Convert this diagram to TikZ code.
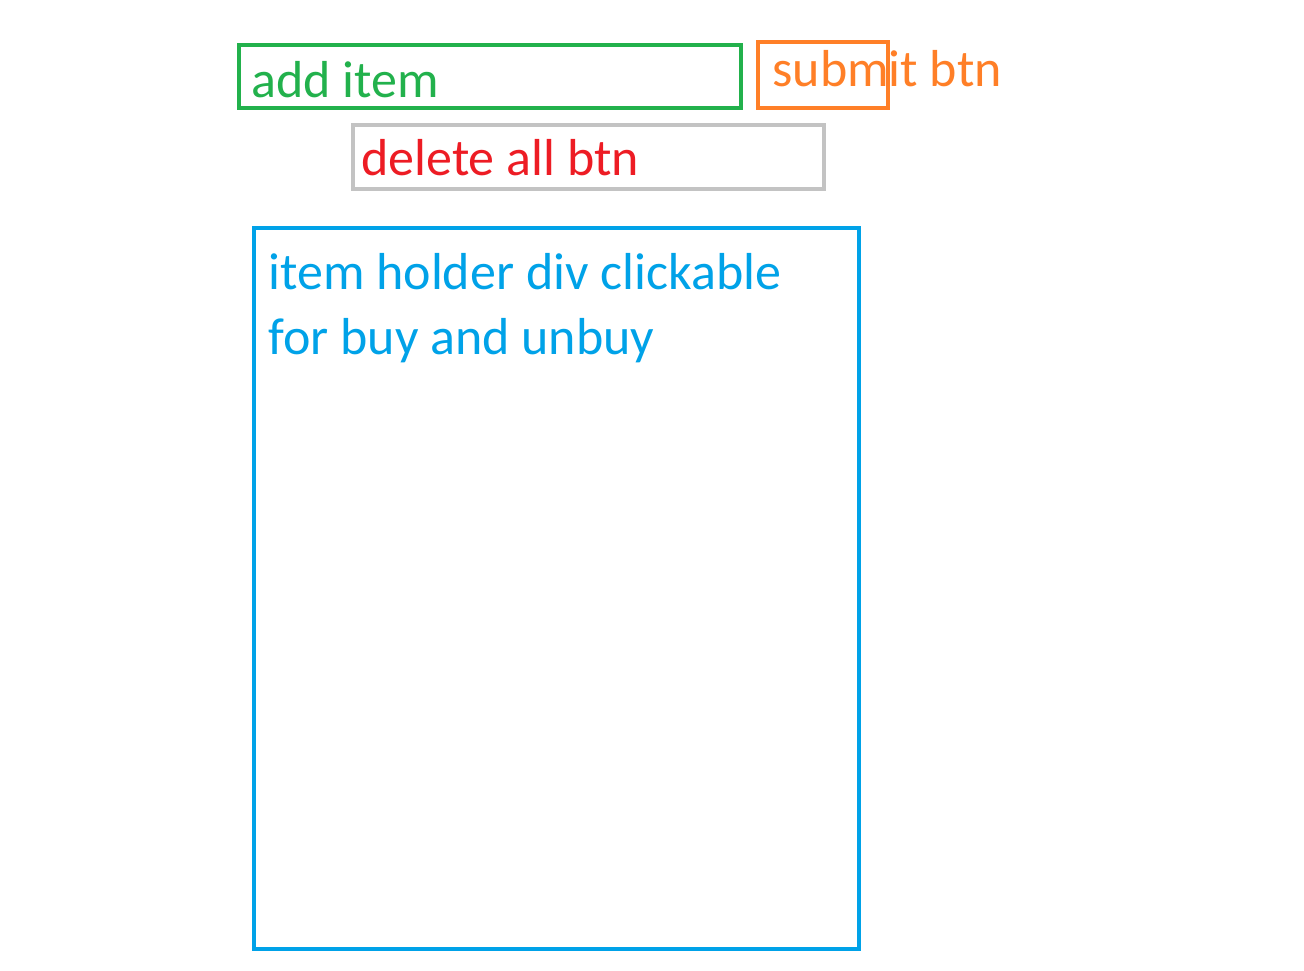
\documentclass[tikz,border=0pt]{standalone}
\usepackage{fontspec}
\setmainfont{Carlito}
\definecolor{pgreen}{HTML}{22B14C}
\definecolor{porange}{HTML}{FF7F27}
\definecolor{pgray}{HTML}{C3C3C3}
\definecolor{pred}{HTML}{ED1C24}
\definecolor{pblue}{HTML}{00A2E8}
\begin{document}
\begin{tikzpicture}[x=0.5pt,y=-0.5pt,
  boxline/.style={line width=2.2pt},
  lbl/.style={anchor=base west,inner sep=0pt,font=\fontsize{26pt}{32pt}\selectfont}]
\useasboundingbox (0,0) rectangle (1304,970);
\draw[boxline,pgreen] (239,45) rectangle (741,108) node[pos=0,coordinate] (gbox) {};
\draw[boxline,porange] (758,42) rectangle (888,108) node[pos=0,coordinate] (obox) {};
\draw[boxline,pgray] (353,125) rectangle (824,189) node[pos=0,coordinate] (gybox) {};
\draw[boxline,pblue] (254,228) rectangle (859,949) node[pos=0,coordinate] (bbox) {};
\node[lbl,pgreen] (t1) at (251,97) {add item};
\node[lbl,porange] (t2) at (772,86) {submit btn};
\node[lbl,pred] (t3) at (361,175) {delete all btn};
\node[lbl,pblue] (t4) at (268,289) {item holder div clickable};
\node[lbl,pblue] (t5) at (268,354) {for buy and unbuy};
\end{tikzpicture}
\end{document}
